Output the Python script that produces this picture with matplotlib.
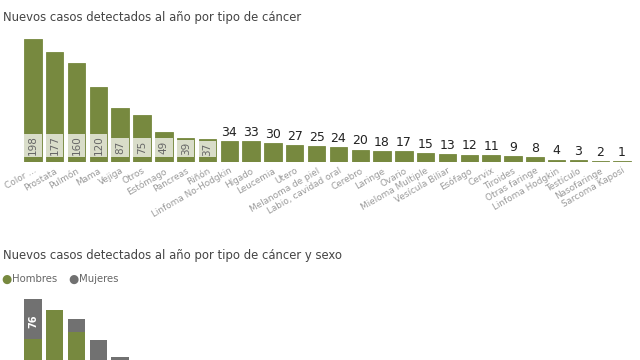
import matplotlib.pyplot as plt
import numpy as np

# data
tipos = ['Color ...', 'Prostata', 'Pulmón', 'Mama', 'Vejiga', 'Otros', 'Estómago',
         'Pancreas', 'Riñón', 'Linfoma No-Hodgkin', 'Hígado', 'Leucemia', 'Utero',
         'Melanoma de piel', 'Labio, cavidad oral', 'Cerebro', 'Laringe', 'Ovario',
         'Mieloma Multiple', 'Vesícula Biliar', 'Esófago', 'Cervix', 'Tiroides',
         'Otras faringe', 'Linfoma Hodgkin', 'Testículo', 'Nasofaringe', 'Sarcoma Kaposi']
casos = [198, 177, 160, 120, 87, 75, 49, 39, 37, 34, 33, 30, 27, 25, 24, 20, 18, 17,
         15, 13, 12, 11, 9, 8, 4, 3, 2, 1]

# second chart: only the first bars are visible in the crop
tipos_sexo = ['Color ...', 'Prostata', 'Pulmón', 'Mama', 'Vejiga']
hombres = [122, 177, 135, 1, 70]
mujeres = [76, 0, 25, 119, 17]

verde = '#77893f'
gris = '#717171'
caja = '#d9ddc9'

fig = plt.figure(figsize=(6.4, 3.6), dpi=100)
fig.patch.set_facecolor('white')

fig.text(0.005, 0.95, 'Nuevos casos detectados al año por tipo de cáncer',
         fontsize=8.4, color='#444444', va='center')

# --- top chart
ax = fig.add_axes([22/640, (360-162)/360, 611/640, 123/360])
x = np.arange(len(casos))
ax.bar(x, casos, width=0.8, color=verde, edgecolor=verde, linewidth=0.6)
ax.set_xlim(-0.5, len(casos) - 0.5)
ax.set_ylim(0, 198)
for s in ax.spines.values():
    s.set_visible(False)
ax.set_yticks([])
ax.set_xticks(x)
ax.set_xticklabels(tipos, rotation=30, ha='right', va='top', rotation_mode='anchor',
                   fontsize=6.4, color='#9a9a9a')
ax.tick_params(axis='x', length=0, pad=3)

# labels: inside (on light box) for the big bars, above for the rest
upp = 198 / 123.0  # data units per pixel
for i, v in enumerate(casos):
    if v >= 37:
        largo = 23 if v >= 100 else 19
        largo = min(largo, v / upp - 7)
        ax.bar(i, largo * upp, bottom=5 * upp, width=0.8, color=caja)
        ax.text(i, 5 * upp + largo * upp / 2, str(v), rotation=90, ha='center',
                va='center', fontsize=7.5, color='#666666')
    else:
        ax.annotate(str(v), (i, v), xytext=(0, 1.5), textcoords='offset points',
                    ha='center', va='bottom', fontsize=9, color='#222222')

# --- bottom chart
fig.text(0.005, (360-255)/360, 'Nuevos casos detectados al año por tipo de cáncer y sexo',
         fontsize=8.4, color='#444444', va='center')
fig.text(6/640, (360-279)/360, '●', fontsize=8.5, color=verde, va='center', ha='center')
fig.text(12/640, (360-279)/360, 'Hombres', fontsize=7.3, color='#666666', va='center')
fig.text(73/640, (360-279)/360, '●', fontsize=8.5, color=gris, va='center', ha='center')
fig.text(79/640, (360-279)/360, 'Mujeres', fontsize=7.3, color='#666666', va='center')

ax2 = fig.add_axes([22/640, (360-403)/360, 611/640, 104/360])
x2 = np.arange(len(tipos_sexo))
ax2.bar(x2, hombres, width=0.8, color=verde)
ax2.bar(x2, mujeres, bottom=hombres, width=0.8, color=gris)
ax2.set_xlim(-0.5, len(casos) - 0.5)
ax2.set_ylim(0, 198)
ax2.axis('off')
ax2.text(0, hombres[0] + mujeres[0] * 0.45, str(mujeres[0]), rotation=90, ha='center',
         va='center', fontsize=7, color='white', fontweight='bold')

fig.savefig('out.png', dpi=100)
